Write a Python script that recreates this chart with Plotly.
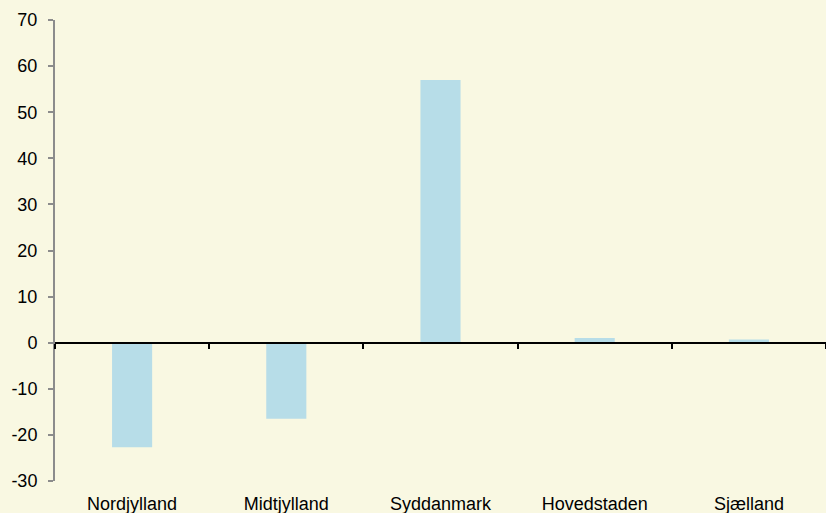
import plotly.graph_objects as go

categories = ["Nordjylland", "Midtjylland", "Syddanmark", "Hovedstaden", "Sjælland"]
values = [-22.7, -16.5, 57.0, 1.0, 0.7]
y_ticks = [-30, -20, -10, 0, 10, 20, 30, 40, 50, 60, 70]
y_tick_text = [str(v) for v in y_ticks]

bg = "#F9F8E2"
bar_color = "#B7DDE8"

fig = go.Figure()
fig.add_trace(go.Bar(x=categories, y=values, marker=dict(color=bar_color, line=dict(width=0)),
                     width=0.26, xaxis="x", yaxis="y", showlegend=False))
fig.add_trace(go.Bar(x=categories, y=values, opacity=0, xaxis="x2", yaxis="y",
                     showlegend=False, hoverinfo="skip"))

fig.update_layout(
    width=826, height=513,
    margin=dict(l=55, r=0, t=20, b=32, autoexpand=False),
    paper_bgcolor=bg, plot_bgcolor=bg,
    font=dict(family="Liberation Sans, Arial, sans-serif", size=18, color="#000000"),
    barmode="overlay",
    xaxis=dict(type="category", categoryarray=categories, showline=False, showgrid=False,
               zeroline=False, ticks="outside", ticklen=6, tickcolor="rgba(0,0,0,0)",
               tickfont=dict(size=18), automargin=False),
    xaxis2=dict(type="category", categoryarray=categories, overlaying="x", anchor="free",
                position=0.3, side="bottom", showline=True, linecolor="#000000", linewidth=2,
                ticks="outside", tickson="boundaries", ticklen=5, tickwidth=2, tickcolor="#000000",
                showticklabels=False, showgrid=False, zeroline=False, matches="x"),
    yaxis=dict(range=[-30, 70], tickvals=y_ticks, ticktext=y_tick_text, showgrid=False,
               zeroline=False, showline=True, linecolor="#8C8C8C", linewidth=2, ticks="outside",
               ticklen=5, tickcolor="#8C8C8C", tickwidth=2, tickfont=dict(size=18),
               ticklabelstandoff=7, automargin=False),
)

fig.write_html("out.html", config={"displayModeBar": False},
               post_script="document.body.style.margin='0';")
